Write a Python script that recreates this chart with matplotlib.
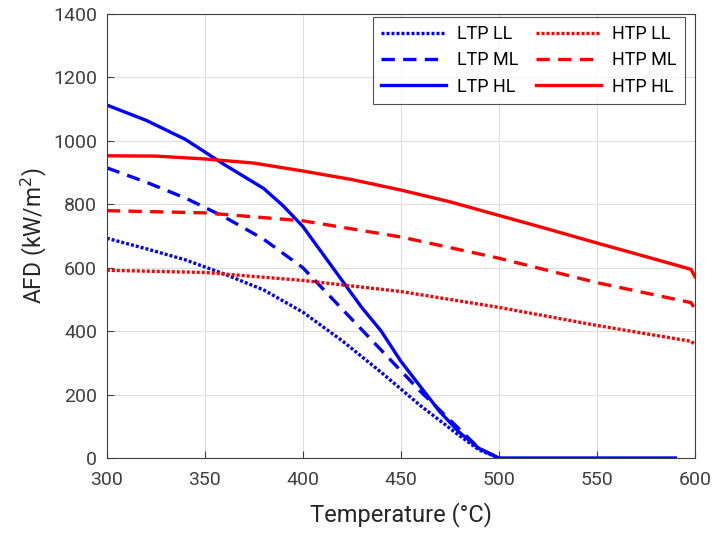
import numpy as np
import matplotlib.pyplot as plt

plt.rcParams['font.family'] = ['Roboto', 'DejaVu Sans']

# LTP curves (low temperature PCM)
t_ltp = [300, 320, 340, 360, 380, 390, 400, 410, 420, 430, 440, 450, 460, 470, 480, 490, 500, 590]
ltp_hl = [1113, 1065, 1005, 925, 850, 795, 730, 645, 560, 475, 400, 305, 225, 145, 80, 30, 0, 0]

t_ltp2 = [300, 320, 340, 360, 380, 400, 420, 440, 460, 480, 490, 500]
ltp_ml = [915, 870, 820, 760, 690, 600, 470, 340, 210, 90, 30, 0]
ltp_ll = [693, 660, 625, 580, 530, 460, 370, 270, 165, 70, 25, 0]

# HTP curves (high temperature PCM)
t_htp_hl = [300, 325, 350, 375, 400, 425, 450, 475, 500, 525, 550, 575, 598, 600]
htp_hl = [953, 952, 943, 930, 905, 878, 845, 808, 765, 722, 678, 635, 595, 572]

t_htp = [300, 350, 400, 450, 500, 550, 598, 600]
htp_ml = [780, 773, 748, 697, 630, 553, 490, 470]
htp_ll = [592, 585, 560, 525, 475, 418, 368, 358]

lw = 2.4
dot = (0, (0.9, 0.6))
dash = (0, (4.0, 2.5))

fig = plt.figure(figsize=(7.12, 5.33), dpi=100)
ax = fig.add_axes([0.150, 0.1407, 0.826, 0.833])

ax.plot(t_ltp2, ltp_ll, color='#0000ff', ls=dot, lw=lw, label='LTP LL')
ax.plot(t_ltp2, ltp_ml, color='#0000ff', ls=dash, lw=lw, label='LTP ML')
ax.plot(t_ltp, ltp_hl, color='#0000ff', ls='-', lw=lw, label='LTP HL')
ax.plot(t_htp, htp_ll, color='#ff0000', ls=dot, lw=lw, label='HTP LL')
ax.plot(t_htp, htp_ml, color='#ff0000', ls=dash, lw=lw, label='HTP ML')
ax.plot(t_htp_hl, htp_hl, color='#ff0000', ls='-', lw=lw, label='HTP HL')

ax.set_xlim(300, 600)
ax.set_ylim(0, 1400)
ax.set_xticks(np.arange(300, 601, 50))
ax.set_yticks(np.arange(0, 1401, 200))
ax.grid(True, color='#dedede', lw=0.8)
ax.set_axisbelow(True)
ax.tick_params(direction='in', labelsize=14, colors='#404040', length=5)
ax.tick_params(axis='x', pad=9)
ax.tick_params(axis='y', pad=7)
for s in ax.spines.values():
    s.set_color('#404040')
    s.set_linewidth(0.8)

ax.set_xlabel('Temperature (°C)', fontsize=17, color='#262626', labelpad=10)
ax.set_ylabel('AFD (kW/m$^2$)', fontsize=16.5, color='#262626', labelpad=3)

leg = ax.legend(ncol=2, loc='upper right', bbox_to_anchor=(0.983, 0.993),
                fontsize=13, handlelength=3.6,
                frameon=True, fancybox=False, edgecolor='#262626',
                borderaxespad=0, borderpad=0.45, columnspacing=1.0,
                handletextpad=0.6, labelspacing=0.45)
leg.get_frame().set_linewidth(0.8)

fig.savefig('out.png', dpi=100)
